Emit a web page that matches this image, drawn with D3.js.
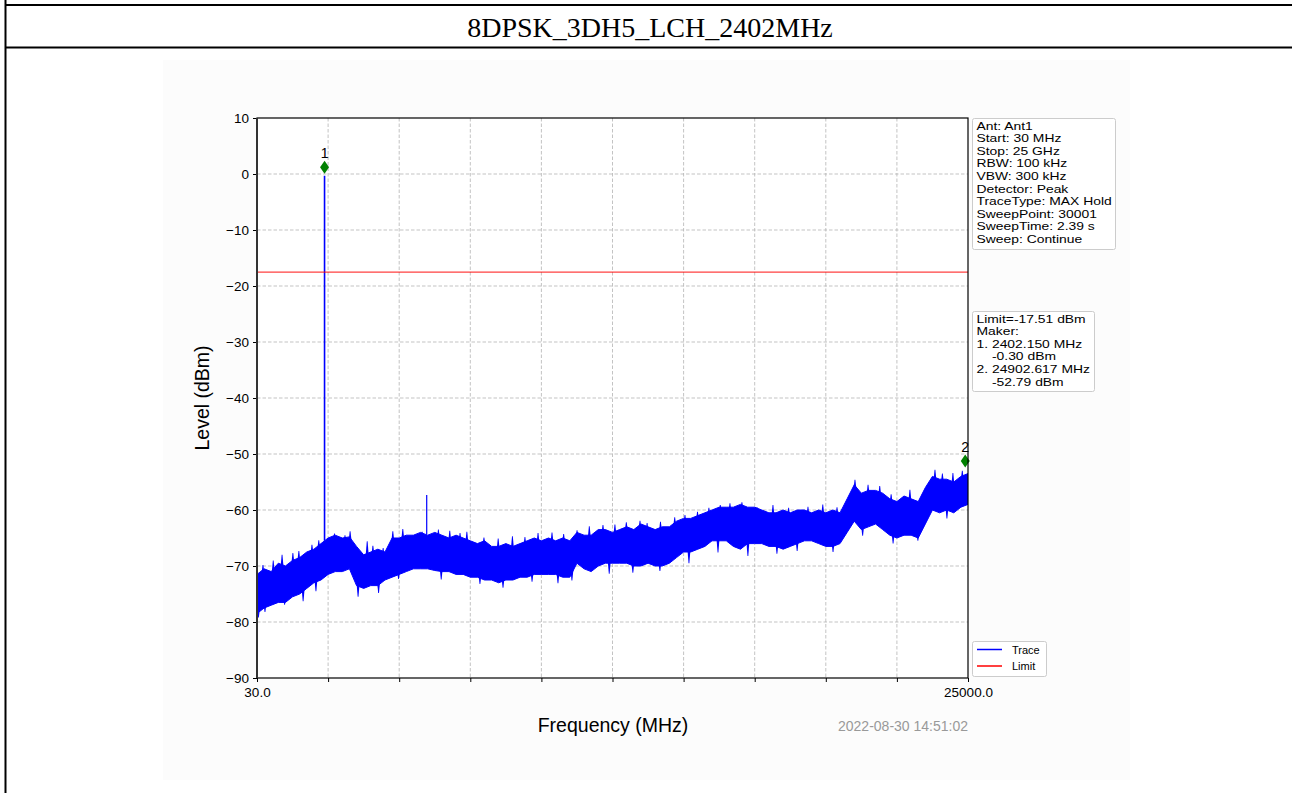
<!DOCTYPE html>
<html><head><meta charset="utf-8">
<script src="https://cdn.jsdelivr.net/npm/d3@7"></script>
<style>
html,body{margin:0;padding:0;background:#fff;}
svg{display:block;}
</style></head>
<body>
<svg id="chart" width="1292" height="793"></svg>
<script>
// ---------------- data ----------------
const title = "8DPSK_3DH5_LCH_2402MHz";
const startMHz = 30, stopMHz = 25000;
const yTicks = [10, 0, -10, -20, -30, -40, -50, -60, -70, -80, -90];
const xTickCount = 10;               // intervals between start and stop
const xTickLabels = ["30.0", "25000.0"];
const limitLevel = -17.51;
// trace envelope read every ~250 MHz (101 points, start..stop)
const traceUpper = [-71.5,-70.5,-71,-69.5,-70,-69,-68.5,-67.5,-67,-66,-65,-64.5,-65,-64.8,-66.5,-68,-67.5,-67,-67.5,-65,
  -65,-64.5,-64.5,-64,-64.5,-64,-64.5,-65,-64.5,-65,-65.5,-66,-65.5,-66.5,-66.5,-66,-66.5,-66,-65.5,-65,
  -65.5,-65,-65.5,-65,-65.5,-64,-64.5,-64.5,-63.5,-63.5,-64,-63.5,-63,-63.5,-62.5,-63,-63.5,-63,-63,-62,
  -61.5,-61.5,-61,-60.5,-60,-59.5,-59.5,-59.5,-59,-59.5,-59.5,-60,-60.5,-60.5,-60,-60.5,-60,-60,-60.5,-60,
  -60.5,-60,-60.5,-58,-55.5,-57,-56.5,-56.5,-57,-58,-58.5,-57.5,-58,-58.5,-56,-54,-54.5,-54.5,-55,-54,-53.5];
const traceLower = [-78.5,-77.5,-77,-76.5,-76.5,-75.5,-75,-74,-73,-72.5,-71.5,-71,-71,-70.5,-73.5,-74,-73.5,-73.5,-72.5,-72,
  -71.5,-71,-70.5,-70.5,-70.5,-70.8,-71,-71,-71.5,-71.5,-72,-72,-72.5,-72.5,-73,-72.5,-72.5,-72,-72,-71.5,
  -71.5,-71.5,-71.5,-72,-72,-69.5,-70.5,-71,-70,-69.5,-69.5,-69.5,-69.5,-70,-70,-69.5,-70,-70,-69.5,-68.5,
  -67.5,-67.5,-67,-66.5,-65.5,-65.5,-65.5,-66.5,-67,-66,-66,-66,-66.5,-66.5,-67,-66.5,-66,-65.5,-65.5,-66,
  -66.5,-66.5,-66,-64,-62,-63.5,-63,-62.5,-63.5,-64.5,-65,-64.5,-64.5,-65,-62.5,-60,-60.5,-60,-60.5,-59.5,-59];
// large isolated spikes (MHz, dBm)
const spikeFreqs  = [2402.15, 5990];
const spikeLevels = [-0.30, -57.3];
// small noise peaks above the band (MHz, dBm)
const peakFreqs  = [240, 600, 910, 1290, 1500, 1960, 2200, 2750, 3120, 3300, 3900, 4100, 4460, 4800, 5150, 5510, 5830, 6400,
  6800, 7160, 7400, 8000, 8500, 9000, 9440, 9900, 10390, 10800, 11270, 11700, 12180, 12600, 13000, 13480, 13730, 14200,
  14700, 15060, 15500, 15900, 16300, 16640, 17060, 17590, 18150, 18700, 19380, 19900, 20400, 20800, 21030, 21490, 21900,
  22300, 22960, 23400, 23840, 24100, 24470, 24800];
const peakLevels = [-69.8, -69.0, -68.0, -67.7, -67.3, -66.2, -65.4, -64.2, -64.5, -63.8, -65.6, -66.4, -66.8, -63.8, -63.4, -64.5, -63.9, -63.5,
  -63.7, -64.1, -63.9, -64.9, -65.1, -64.7, -64.8, -64.1, -64.0, -64.3, -63.6, -62.9, -62.7, -62.6, -62.2, -61.9, -62.3, -62.1,
  -61.3, -60.9, -60.3, -59.6, -59.1, -58.8, -58.6, -59.5, -59.1, -59.6, -59.4, -59.0, -59.5, -59.3, -54.6, -55.5, -55.7,
  -57.2, -56.4, -57.1, -52.8, -53.5, -53.4, -53.0];
// small noise dips below the band (MHz, dBm)
const dipFreqs  = [80, 310, 1000, 1650, 2100, 3580, 4300, 5000, 6500, 7860, 8670, 9690, 10600, 11090, 12400, 13230, 14180,
  15200, 16220, 17270, 18290, 19000, 20260, 21300, 22370, 23240, 24260];
const dipLevels = [-79.2, -78.2, -76.9, -76.3, -74.5, -75.5, -74.8, -72.3, -72.4, -73.2, -73.9, -72.8, -73.1, -72.6, -71.4, -71.2, -70.9,
  -69.5, -67.6, -68.2, -67.8, -67.3, -67.5, -64.6, -66.0, -65.5, -61.5];
// markers
const markerFreqs  = [2402.150, 24902.617];
const markerLevels = [-0.30, -52.79];
const markerNames  = ["1", "2"];
// info text
const infoLines = ["Ant: Ant1","Start: 30 MHz","Stop: 25 GHz","RBW: 100 kHz","VBW: 300 kHz","Detector: Peak",
  "TraceType: MAX Hold","SweepPoint: 30001","SweepTime: 2.39 s","Sweep: Continue"];
const markerLines = ["Limit=-17.51 dBm","Maker:","1. 2402.150 MHz","    -0.30 dBm","2. 24902.617 MHz","    -52.79 dBm"];
const legendNames = ["Trace","Limit"];
const legendColors = ["#0000ff","#ff0000"];
const timestamp = "2022-08-30 14:51:02";

// ---------------- drawing ----------------
const svg = d3.select("#chart");
const sans = "'Liberation Sans', Arial, sans-serif";

// table frame
svg.append("rect").attr("x",0).attr("y",0).attr("width",1292).attr("height",793).attr("fill","#fff");
svg.append("line").attr("x1",5).attr("x2",1292).attr("y1",5).attr("y2",5).attr("stroke","#000").attr("stroke-width",2);
svg.append("line").attr("x1",5).attr("x2",1292).attr("y1",47.5).attr("y2",47.5).attr("stroke","#000").attr("stroke-width",2);
svg.append("line").attr("x1",5.5).attr("x2",5.5).attr("y1",0).attr("y2",793).attr("stroke","#000").attr("stroke-width",2);
svg.append("text").attr("x",650).attr("y",37).attr("text-anchor","middle")
  .attr("font-family","'Liberation Serif','Times New Roman',serif").attr("font-size",28).text(title);

// figure background
svg.append("rect").attr("x",163).attr("y",60).attr("width",967).attr("height",720).attr("fill","#fcfcfc");

const L = 257, R = 968, T = 118, B = 678;
const x = d3.scaleLinear().domain([startMHz, stopMHz]).range([L, R]);
const y = d3.scaleLinear().domain([-90, 10]).range([B, T]);
svg.append("rect").attr("x",L).attr("y",T).attr("width",R-L).attr("height",B-T).attr("fill","#fff");

const xTickVals = d3.range(xTickCount + 1).map(i => startMHz + i * (stopMHz - startMHz) / xTickCount);

// grid
const grid = svg.append("g").attr("stroke","#b4b4b4").attr("stroke-width",0.8).attr("stroke-dasharray","3.5,2");
yTicks.filter(v => v > -90 && v < 10).forEach(v => {
  grid.append("line").attr("x1",L).attr("x2",R).attr("y1",y(v)).attr("y2",y(v));
});
xTickVals.slice(1, -1).forEach(v => {
  grid.append("line").attr("x1",x(v)).attr("x2",x(v)).attr("y1",T).attr("y2",B);
});

// clip
svg.append("clipPath").attr("id","clip").append("rect").attr("x",L).attr("y",T).attr("width",R-L).attr("height",B-T);
const plot = svg.append("g").attr("clip-path","url(#clip)");

// trace band
const n = traceUpper.length;
const freqs = d3.range(n).map(i => startMHz + i * (stopMHz - startMHz) / (n - 1));
const band = freqs.map((f, i) => ({f, hi: traceUpper[i], lo: traceLower[i]}));
plot.append("path").datum(band)
  .attr("d", d3.area().x(d => x(d.f)).y0(d => y(d.lo)).y1(d => y(d.hi)))
  .attr("fill","#0000ff").attr("stroke","#0000ff").attr("stroke-width",1).attr("stroke-linejoin","miter");

const bandAt = f => {
  const i = Math.max(0, Math.min(n - 2, Math.floor((f - startMHz) / ((stopMHz - startMHz) / (n - 1)))));
  const t = (f - freqs[i]) / (freqs[i+1] - freqs[i]);
  return {hi: traceUpper[i] + t * (traceUpper[i+1] - traceUpper[i]), lo: traceLower[i] + t * (traceLower[i+1] - traceLower[i])};
};
// noise peaks and dips as thin triangles
const spikeTri = (f, lv, base) => {
  const cx = x(f);
  return `M${cx-2},${y(base)}L${cx-0.4},${y(lv)}L${cx+0.4},${y(lv)}L${cx+2},${y(base)}Z`;
};
peakFreqs.forEach((f, i) => {
  const b = bandAt(f);
  plot.append("path").attr("d", spikeTri(f, peakLevels[i], b.hi - 1.5)).attr("fill","#0000ff");
});
dipFreqs.forEach((f, i) => {
  const b = bandAt(f);
  plot.append("path").attr("d", spikeTri(f, dipLevels[i], b.lo + 1.5)).attr("fill","#0000ff");
});
// large spikes
spikeFreqs.forEach((f, i) => {
  const b = bandAt(f);
  plot.append("line").attr("x1",x(f)).attr("x2",x(f)).attr("y1",y(b.hi)).attr("y2",y(spikeLevels[i]))
    .attr("stroke","#0000ff").attr("stroke-width", i === 0 ? 1.6 : 1.2);
});

// limit line
plot.append("line").attr("x1",L).attr("x2",R).attr("y1",y(limitLevel)).attr("y2",y(limitLevel))
  .attr("stroke","#ff0000").attr("stroke-opacity",0.75).attr("stroke-width",1.2);

// markers
markerFreqs.forEach((f, i) => {
  const cx = x(f), cy = y(markerLevels[i]) - 8.5;
  svg.append("path").attr("d",`M${cx},${cy-6.5}L${cx+4.5},${cy}L${cx},${cy+6.5}L${cx-4.5},${cy}Z`).attr("fill","#008000");
  svg.append("text").attr("x",cx).attr("y",cy-9).attr("text-anchor","middle").attr("font-family",sans)
    .attr("font-size",14).attr("fill","#000").text(markerNames[i]);
});

// axes
const yAxis = d3.axisLeft(y).tickValues(yTicks).tickSize(4).tickPadding(4)
  .tickFormat(v => (v < 0 ? "\u2212" + Math.abs(v) : String(v)));
const gy = svg.append("g").attr("transform",`translate(${L},0)`).call(yAxis);
const xAxis = d3.axisBottom(x).tickValues(xTickVals).tickSize(4).tickPadding(5)
  .tickFormat((v, i) => i === 0 ? xTickLabels[0] : (i === xTickVals.length - 1 ? xTickLabels[1] : ""));
const gx = svg.append("g").attr("transform",`translate(0,${B})`).call(xAxis);
[gx, gy].forEach(g => {
  g.select(".domain").remove();
  g.selectAll(".tick line").attr("stroke","#000").attr("stroke-width",1);
  g.selectAll(".tick text").attr("font-family",sans).attr("font-size",13.5).attr("fill","#000");
});
// spines
svg.append("rect").attr("x",L).attr("y",T).attr("width",R-L).attr("height",B-T)
  .attr("fill","none").attr("stroke","#000").attr("stroke-width",1.2);
svg.append("line").attr("x1",L).attr("x2",L).attr("y1",T).attr("y2",B).attr("stroke","#333").attr("stroke-width",2);

// labels
svg.append("text").attr("transform",`translate(209,398) rotate(-90)`).attr("text-anchor","middle")
  .attr("font-family",sans).attr("font-size",19.5).text("Level (dBm)");
svg.append("text").attr("x",613).attr("y",732).attr("text-anchor","middle")
  .attr("font-family",sans).attr("font-size",19.5).text("Frequency (MHz)");
svg.append("text").attr("x",968).attr("y",731).attr("text-anchor","end")
  .attr("font-family",sans).attr("font-size",14).attr("fill","#999").text(timestamp);

// info boxes
function box(x0, y0, w, h, lines, lh) {
  svg.append("rect").attr("x",x0).attr("y",y0).attr("width",w).attr("height",h).attr("rx",2)
    .attr("fill","#fff").attr("stroke","#ccc").attr("stroke-width",1);
  lines.forEach((t, i) => {
    svg.append("text").attr("transform",`translate(${x0+4},${y0+11+i*lh}) scale(1.24,1)`)
      .attr("font-family",sans).attr("font-size",11.2)
      .attr("xml:space","preserve").style("white-space","pre").text(t);
  });
}
box(972.5, 118.5, 143, 131, infoLines, 12.6);
box(972.5, 311.5, 122, 80, markerLines, 12.6);

// legend
svg.append("rect").attr("x",972.5).attr("y",641.5).attr("width",74).attr("height",35).attr("rx",2)
  .attr("fill","#fff").attr("stroke","#ccc").attr("stroke-width",1);
legendNames.forEach((nm, i) => {
  const ly = 649.5 + i * 16.5;
  svg.append("line").attr("x1",977).attr("x2",1002).attr("y1",ly).attr("y2",ly).attr("stroke",legendColors[i]).attr("stroke-width",1.5);
  svg.append("text").attr("x",1012).attr("y",ly+4).attr("font-family",sans).attr("font-size",11).text(nm);
});
</script>
</body></html>
